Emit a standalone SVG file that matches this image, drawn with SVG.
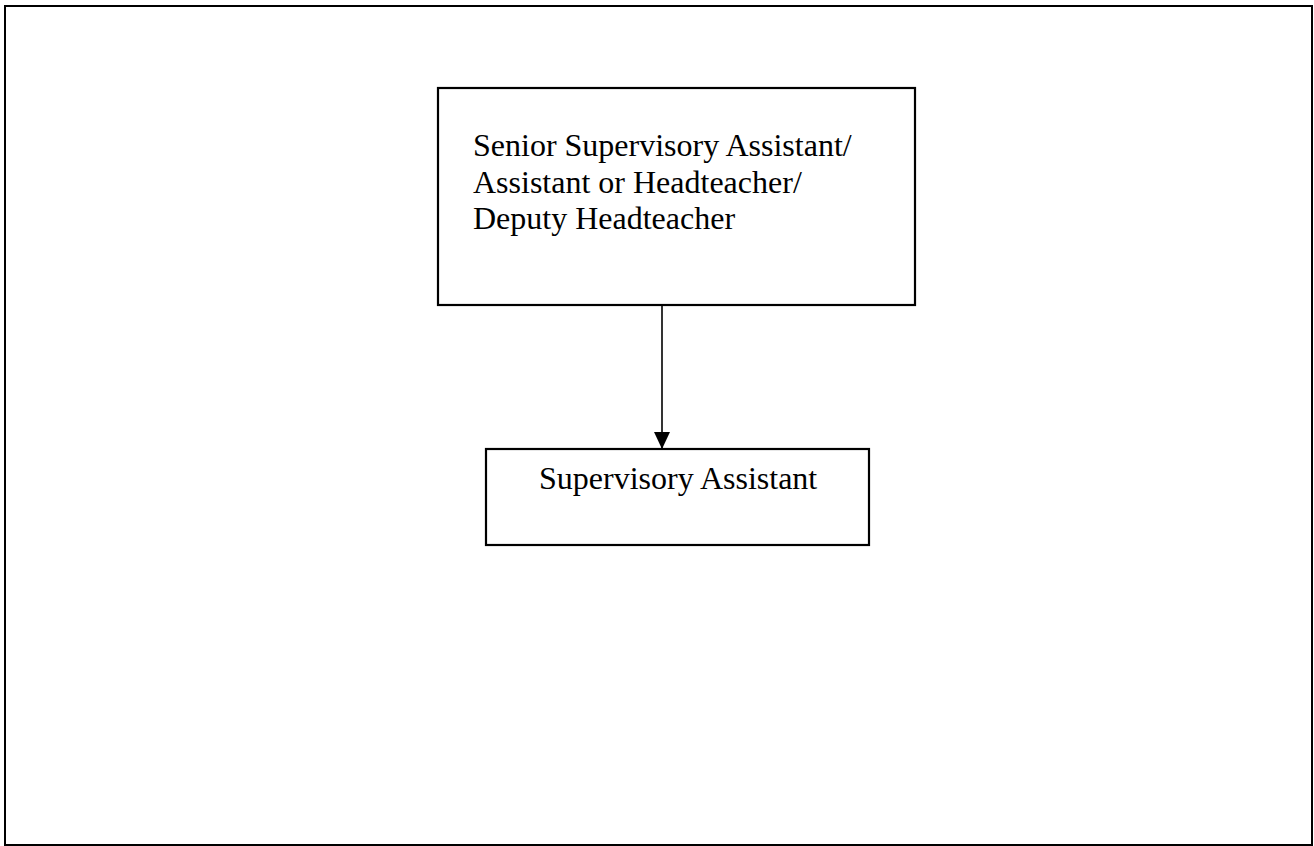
<svg xmlns="http://www.w3.org/2000/svg" width="1314" height="846" viewBox="0 0 1314 846">
<defs>
<style>
.box{fill:#fff;stroke:#000;stroke-width:2.2}
.t{font-family:"Liberation Serif","Times New Roman",serif;font-size:32px;fill:#000}
.ln{stroke:#000;stroke-width:1.6;fill:none}
</style>
<marker id="ah" markerWidth="17" markerHeight="16" refX="17" refY="8" orient="auto" markerUnits="userSpaceOnUse" viewBox="0 0 17 16">
<path d="M0,0 L17,8 L0,16 Z" fill="#000"/>
</marker>
</defs>
<rect width="1314" height="846" fill="#fff"/>
<rect x="5" y="6" width="1307" height="839" fill="none" stroke="#000" stroke-width="2"/>
<g id="connectors">
<line class="ln" x1="662" y1="306" x2="662" y2="449" marker-end="url(#ah)"/>
</g>
<g id="node-senior">
<rect class="box" x="438" y="88" width="477" height="217"/>
<text class="t" x="473" y="156">Senior Supervisory Assistant/</text>
<text class="t" x="473" y="193">Assistant or Headteacher/</text>
<text class="t" x="473" y="229">Deputy Headteacher</text>
</g>
<g id="node-supervisory">
<rect class="box" x="486" y="449" width="383" height="96"/>
<text class="t" x="539" y="489">Supervisory Assistant</text>
</g>
</svg>
